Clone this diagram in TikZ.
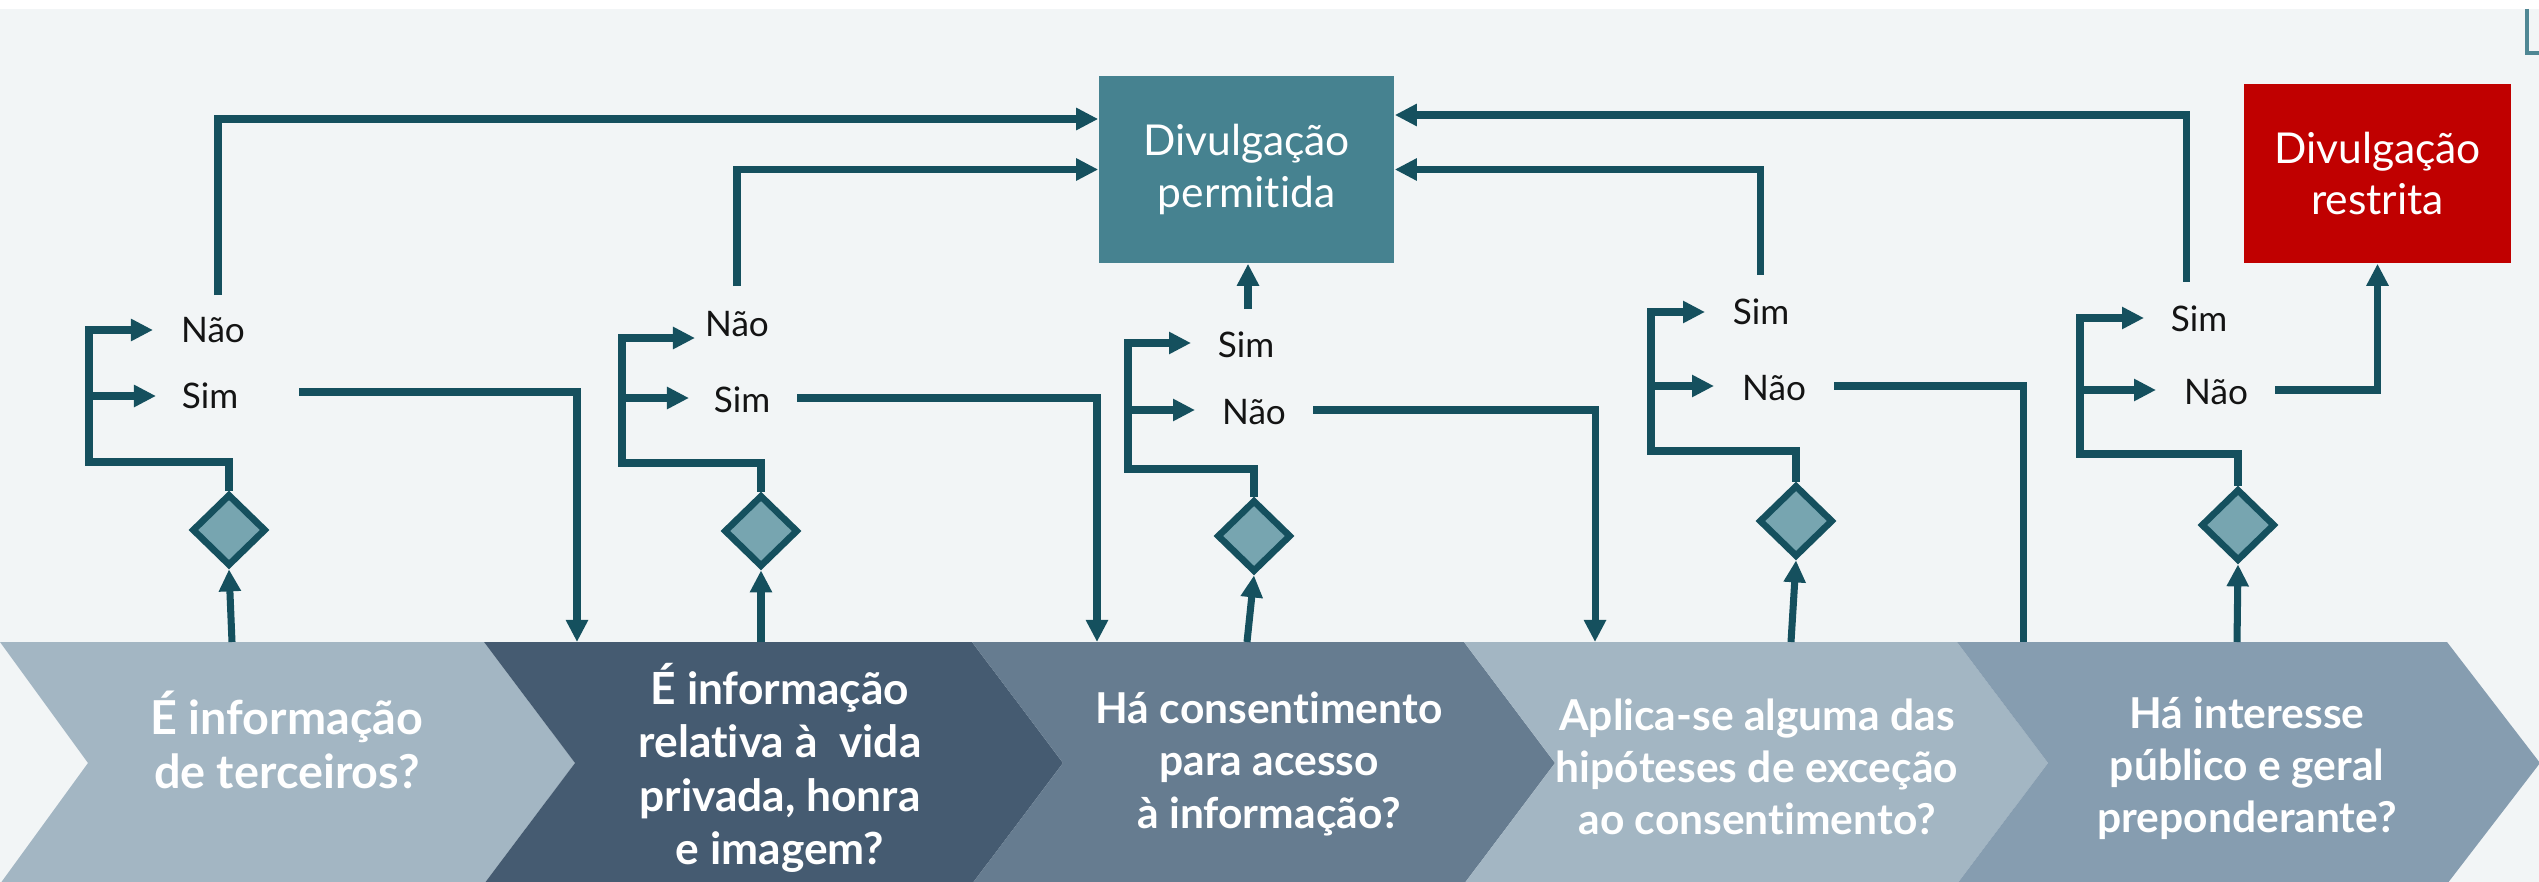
\documentclass[tikz,border=0pt]{standalone}
\usepackage{fontspec}
\setmainfont{Lato}[Ligatures=CommonOff]
\usetikzlibrary{shapes.geometric,arrows.meta,calc}

\definecolor{bgcol}{HTML}{F2F5F6}
\definecolor{lncol}{HTML}{15505E}
\definecolor{dfill}{HTML}{77A5B0}
\definecolor{permcol}{HTML}{468290}
\definecolor{restrcol}{HTML}{C00000}
\definecolor{chA}{HTML}{A3B6C3}
\definecolor{chB}{HTML}{455B71}
\definecolor{chC}{HTML}{667C90}
\definecolor{chD}{HTML}{869DB0}
\definecolor{cornercol}{HTML}{4F8794}

\begin{document}
\begin{tikzpicture}[x=0.01cm,y=-0.01cm,
  conn/.style={draw=lncol,line width=2pt},
  arr/.style={conn,-{Triangle[length=0.22cm,width=0.21cm]}},
  brk/.style={arr,line width=2.5pt},
  dec/.style={diamond,draw=lncol,fill=dfill,line width=1.9pt,minimum width=0.74cm,minimum height=0.72cm,inner sep=0pt},
  lbl/.style={font=\fontsize{10}{12}\selectfont,text=black!92,inner sep=1pt},
  outbox/.style={text=white,font=\fontsize{12.1}{14.6}\selectfont,align=center,inner sep=0pt},
  qtext/.style={text=white,font=\bfseries\fontsize{12.1}{14.8}\selectfont,align=center,inner sep=0pt}
]
\useasboundingbox (0,0) rectangle (2539,882);
% background
\fill[white] (0,0) rectangle (2539,9);
\fill[bgcol] (0,9) rectangle (2539,882);
\draw[cornercol,line width=1.2pt] (2527,9) -- (2527,53) -- (2545,53);

% chevrons
\fill[chA] (0,642) -- (484,642) -- (575,763) -- (484,884) -- (0,884) -- (88,763) -- cycle;
\fill[chB] (484,642) -- (972,642) -- (1063,763) -- (972,884) -- (484,884) -- (575,763) -- cycle;
\fill[chC] (972,642) -- (1464,642) -- (1555,763) -- (1464,884) -- (972,884) -- (1063,763) -- cycle;
\fill[chA] (1464,642) -- (1957,642) -- (2048,763) -- (1957,884) -- (1464,884) -- (1555,763) -- cycle;
\fill[chD] (1957,642) -- (2447,642) -- (2540,763) -- (2447,884) -- (1957,884) -- (2048,763) -- cycle;

\node[qtext,font=\bfseries\fontsize{13.3}{15.2}\selectfont] (q1) at (287,740) {É informação\\de terceiros?};
\node[qtext,font=\bfseries\fontsize{12.6}{15.2}\selectfont] (q2) at (780,768) {É informação\\relativa à\ \ vida\\privada, honra\\e imagem?};
\node[qtext] (q3) at (1269,764) {Há consentimento\\para acesso\\à informação?};
\node[qtext] (q4) at (1757,767) {Aplica-se alguma das\\hipóteses de exceção\\ao consentimento?};
\node[qtext] (q5) at (2247,768) {Há interesse\\público e geral\\preponderante?};

% outcome boxes
\node[outbox,fill=permcol,minimum width=2.95cm,minimum height=1.87cm] (perm) at (1246.5,169.5) {Divulgação\\permitida};
\node[outbox,fill=restrcol,minimum width=2.67cm,minimum height=1.79cm] (restr) at (2377.5,173.5) {Divulgação\\restrita};

% diamonds
\node[dec] (d1) at (229,530) {};
\node[dec] (d2) at (761,531) {};
\node[dec] (d3) at (1254,536) {};
\node[dec] (d4) at (1796,521) {};
\node[dec] (d5) at (2238,525) {};

% labels
\node[lbl] (n1) at (213,330) {Não};
\node[lbl] (s1) at (210,396) {Sim};
\node[lbl] (n2) at (737,324) {Não};
\node[lbl] (s2) at (742,400) {Sim};
\node[lbl] (s3) at (1246,345) {Sim};
\node[lbl] (n3) at (1254,412) {Não};
\node[lbl] (s4) at (1761,312) {Sim};
\node[lbl] (n4) at (1774,388) {Não};
\node[lbl] (s5) at (2199,319) {Sim};
\node[lbl] (n5) at (2216,392) {Não};

% arrow tips / free ends
\coordinate (t1n) at (153,330); \coordinate (t1s) at (156,396);
\coordinate (t2n) at (695,338); \coordinate (t2s) at (689,398);
\coordinate (t3s) at (1191,343); \coordinate (t3n) at (1195,410);
\coordinate (t4s) at (1705,312); \coordinate (t4n) at (1714,386);
\coordinate (t5s) at (2144,318); \coordinate (t5n) at (2156,390);

\coordinate (n1o) at (218,295);
\coordinate (s1o) at (299,392);
\coordinate (n2o) at (737,286);
\coordinate (s2o) at (797,398);
\coordinate (s3o) at (1248,309);
\coordinate (n3o) at (1313,410);
\coordinate (s4o) at (1760,275);
\coordinate (n4o) at (1834,386);
\coordinate (s5o) at (2186,282);
\coordinate (n5o) at (2275,390);

\coordinate (in1) at (232,642);
\coordinate (in2) at (761,642);
\coordinate (in3) at (1247,642);
\coordinate (in4) at (1791,642);
\coordinate (in5) at (2237,642);
\coordinate (e1) at (577,642);
\coordinate (e2) at (1097,642);
\coordinate (e3) at (1595,642);
\coordinate (e4) at (2023,642);

% inputs into diamonds
\draw[arr] (in1) -- (d1.south);
\draw[arr] (in2) -- (d2.south);
\draw[arr] (in3) -- (d3.south);
\draw[arr] (in4) -- (d4.south);
\draw[arr] (in5) -- (d5.south);

% brackets
\draw[brk] (d1.north) |- (89,462) |- (t1n);
\draw[arr] (89,396) -- (t1s);
\draw[brk] (d2.north) |- (622,463) |- (t2n);
\draw[arr] (622,398) -- (t2s);
\draw[brk] (d3.north) |- (1128,469) |- (t3s);
\draw[arr] (1128,410) -- (t3n);
\draw[brk] (d4.north) |- (1651,451) |- (t4s);
\draw[arr] (1651,386) -- (t4n);
\draw[brk] (d5.north) |- (2080,454) |- (t5s);
\draw[arr] (2080,390) -- (t5n);

% routes
\draw[arr] (n1o) |- (perm.west |- 0,119);
\draw[arr] (n2o) |- (perm.west);
\draw[arr] (s3o) -- (s3o |- perm.south);
\draw[arr] (s4o) |- (perm.east);
\draw[arr] (s5o) |- (perm.east |- 0,115);
\draw[arr] (n5o) -| (restr.south);
\draw[arr] (s1o) -| (e1);
\draw[arr] (s2o) -| (e2);
\draw[arr] (n3o) -| (e3);
\draw[conn] (n4o) -| (e4);
\end{tikzpicture}
\end{document}
